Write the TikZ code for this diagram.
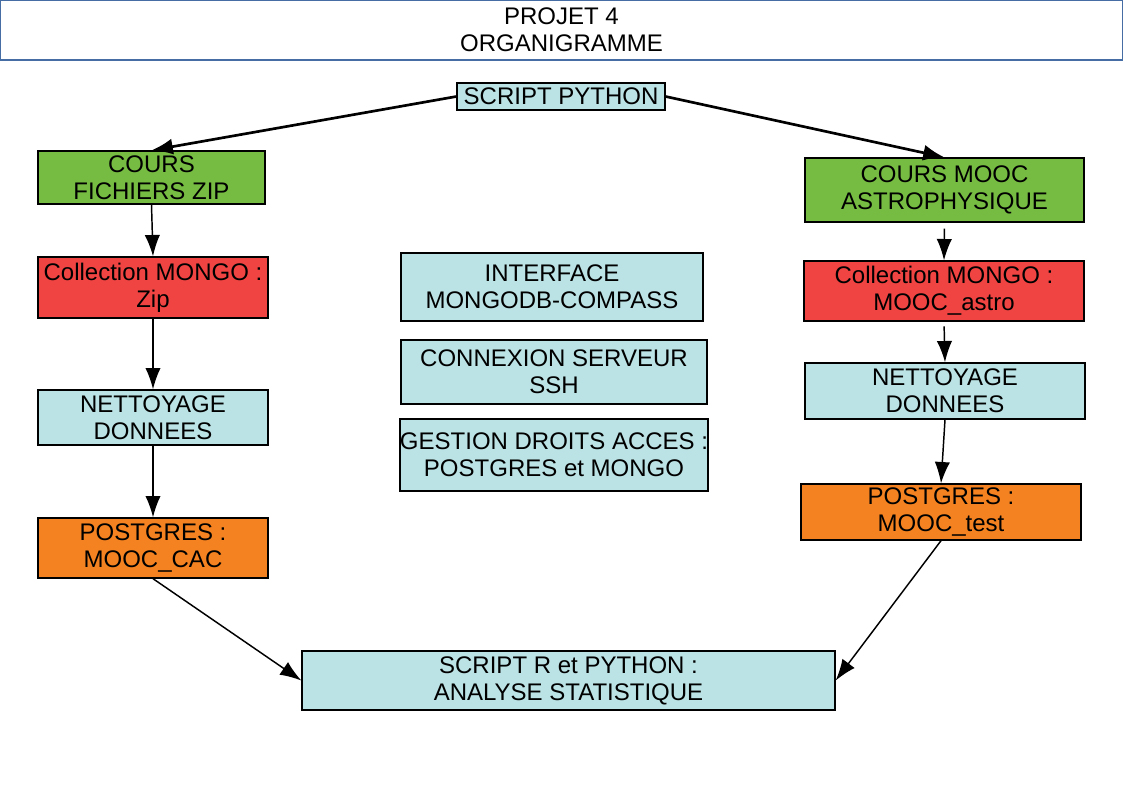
\documentclass[tikz,border=0pt]{standalone}
\usepackage{fontspec}
\setmainfont{Liberation Sans}
\usetikzlibrary{arrows.meta}
\definecolor{boxcyan}{RGB}{187,226,228}
\definecolor{boxgreen}{RGB}{119,188,66}
\definecolor{boxred}{RGB}{240,68,66}
\definecolor{boxorange}{RGB}{245,130,32}
\definecolor{titleblue}{RGB}{70,110,165}
\tikzset{
    box/.style = {draw = black, line width = 1pt, inner sep = 0pt, align = center,
                  font = \fontsize{18}{20.3}\selectfont},
    arr/.style = {-{Latex[length=16pt, width=11.5pt]}, line width = 1.1pt},
    bigarr/.style = {-{Latex[length=16pt, width=12pt]}, line width = 2pt},
}
\begin{document}
\begin{tikzpicture}[x=0.75pt, y=-0.75pt]
        \useasboundingbox (0,0) rectangle (1123,794);
        % titre
        \draw[titleblue, line width = 0.8pt] (0.5,0.5) rectangle (1122.5,60);
        \node[align = center, font = \fontsize{18}{20.3}\selectfont] (titre) at (561.5,30) {PROJET 4\\ORGANIGRAMME};

        \node[box, fill = boxcyan, minimum width = 156pt, minimum height = 20.25pt] (py) at (561,96.5) {SCRIPT PYTHON};

        % branche gauche
        \node[box, fill = boxgreen, minimum width = 170.25pt, minimum height = 39.75pt] (zip) at (151.5,177.5) {COURS\\FICHIERS ZIP};
        \node[box, fill = boxred, minimum width = 172.5pt, minimum height = 45.75pt] (mzip) at (153,287.5) {Collection MONGO :\\Zip};
        \node[box, fill = boxcyan, minimum width = 172.5pt, minimum height = 41.25pt] (netg) at (153,417.5) {NETTOYAGE\\DONNEES};
        \node[box, fill = boxorange, minimum width = 172.5pt, minimum height = 45pt] (pgg) at (153,548) {POSTGRES :\\ MOOC\_CAC};

        % centre
        \node[box, fill = boxcyan, minimum width = 226.5pt, minimum height = 51pt] (inter) at (552,287) {INTERFACE\\MONGODB-COMPASS};
        \node[box, fill = boxcyan, minimum width = 229.5pt, minimum height = 48pt] (ssh) at (554,372) {CONNEXION SERVEUR\\SSH};
        \node[box, fill = boxcyan, minimum width = 229.5pt, minimum height = 54pt] (droits) at (554,455) {GESTION DROITS ACCES :\\POSTGRES et MONGO};

        % branche droite
        \node[box, fill = boxgreen, minimum width = 209.25pt, minimum height = 48pt] (astro) at (944.5,190) {COURS MOOC\\ASTROPHYSIQUE};
        \node[box, fill = boxred, minimum width = 210pt, minimum height = 45pt] (mastro) at (944,291) {Collection MONGO :\\MOOC\_astro};
        \node[box, fill = boxcyan, minimum width = 210pt, minimum height = 42pt] (netd) at (945,391) {NETTOYAGE\\DONNEES};
        \node[box, fill = boxorange, minimum width = 210pt, minimum height = 42pt] (pgd) at (941,512) {POSTGRES :\\MOOC\_test};

        \node[box, fill = boxcyan, minimum width = 399.75pt, minimum height = 44.25pt] (stat) at (568.5,680.5) {SCRIPT R et PYTHON :\\ANALYSE STATISTIQUE};

        % fleches
        \draw[bigarr] (py.west) -- (zip.north);
        \draw[bigarr] (py.east) -- (astro.north);
        \draw[arr] (zip.south) -- (mzip.north);
        \draw[arr] (mzip.south) -- (netg.north);
        \draw[arr] (netg.south) -- (pgg.north);
        \draw[arr] (pgg.south) -- (stat.west);
        \draw[arr, shorten <= 4.5pt] (astro.south) -- (mastro.north);
        \draw[arr, shorten <= 3.5pt] (mastro.south) -- (netd.north);
        \draw[arr] (netd.south) -- (pgd.north);
        \draw[arr] (pgd.south) -- (stat.east);
    \end{tikzpicture}
\end{document}
